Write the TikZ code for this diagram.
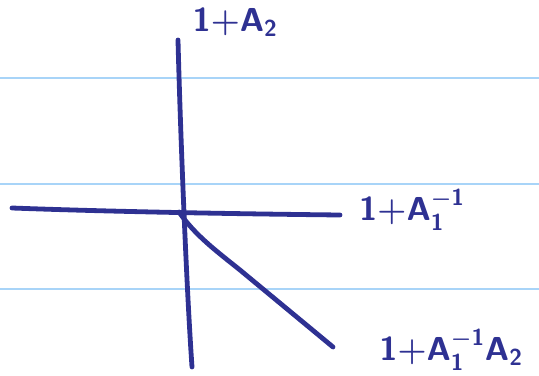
\documentclass[tikz,border=0pt]{standalone}
\usepackage{amsmath,amssymb}
\usepackage{xcolor}
\usepackage{tikz}

\definecolor{ink}{HTML}{2E3192}
\definecolor{rule}{HTML}{A8D4F8}

\tikzset{
  pen/.style={draw=ink, line width=3.6pt, line cap=round, line join=round},
  ruled/.style={draw=rule, line width=1pt},
  axislabel/.style={text=ink, font=\fontsize{25}{27}\selectfont\boldmath, inner sep=0pt}
}

\begin{document}
\begin{tikzpicture}[x=0.75pt, y=-0.75pt]
\useasboundingbox (0,0) rectangle (539,375);
% ruled paper
\foreach \yy in {78,184,289}
  \draw[ruled] (0,\yy) -- (539,\yy);

% end points
\coordinate (o) at (179,212);
\coordinate (top) at (178,40);
\coordinate (bottom) at (192,367);
\coordinate (left) at (12,208);
\coordinate (right) at (340,215);
\coordinate (diag) at (333,347);

% labels
\node[axislabel] (lA) at (235,22) {$\mathsf{1{+}A_2}$};
\node[axislabel] (lB) at (412,210) {$\mathsf{1{+}A_1^{-1}}$};
\node[axislabel] (lC) at (451,350) {$\mathsf{1{+}A_1^{-1}A_2}$};

% axes
\draw[pen] (top) .. controls (180,120) and (186,280) .. (bottom);
\draw[pen] (left) .. controls (120,212) and (250,214) .. (right);
\draw[pen] (o) .. controls (195,235) and (215,250) .. (240,270) -- (diag);
\end{tikzpicture}
\end{document}
